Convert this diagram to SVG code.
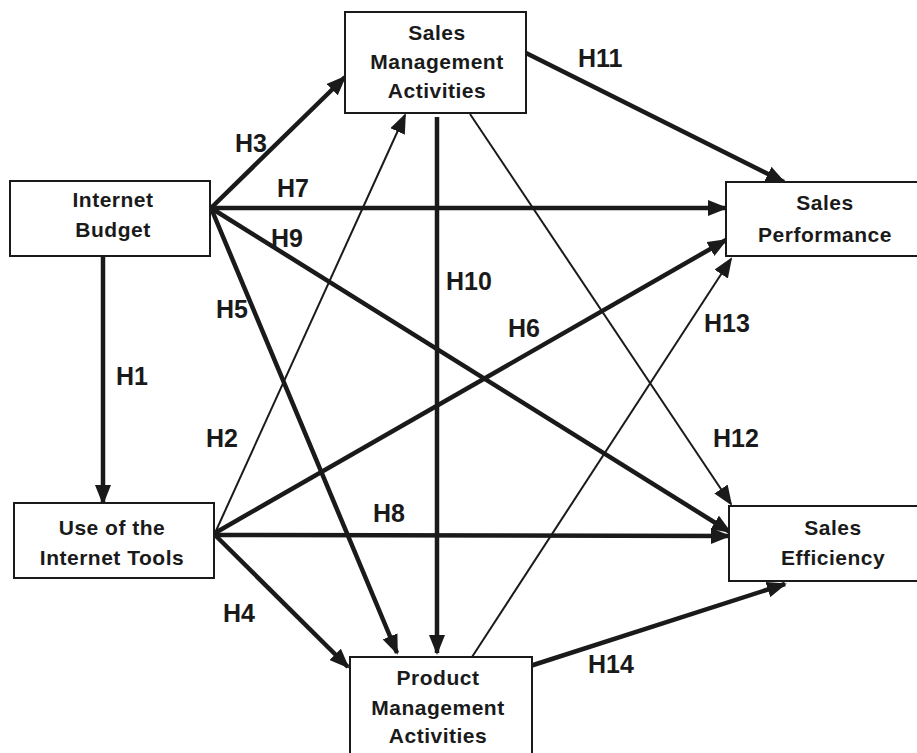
<svg xmlns="http://www.w3.org/2000/svg" width="917" height="753" viewBox="0 0 917 753">
<defs>
<marker id="ah" viewBox="0 0 20 16" refX="18" refY="8" markerWidth="20" markerHeight="16" markerUnits="userSpaceOnUse" orient="auto">
<path d="M0,0 L20,8 L0,16 z" fill="#1a1a1a"/>
</marker>
<style>
.box{fill:#fff;stroke:#1a1a1a;stroke-width:2}
.nt{font-family:"Liberation Sans",Arial,sans-serif;font-weight:bold;font-size:21px;fill:#1a1a1a;text-anchor:middle;letter-spacing:0.5px}
.lb{font-family:"Liberation Sans",Arial,sans-serif;font-weight:bold;font-size:25px;fill:#1a1a1a}
.thick{stroke:#1a1a1a;stroke-width:4.5;fill:none;marker-end:url(#ah)}
.thin{stroke:#1a1a1a;stroke-width:2;fill:none;marker-end:url(#ah)}
</style>
</defs>
<rect width="917" height="753" fill="#fff"/>
<g id="connectors">
<line class="thick" x1="103" y1="257" x2="103" y2="503"/>
<line class="thick" x1="211" y1="208" x2="345" y2="77"/>
<line class="thick" x1="211" y1="208" x2="726" y2="208"/>
<line class="thick" x1="211" y1="208" x2="730" y2="532"/>
<line class="thick" x1="211" y1="208" x2="397" y2="653"/>
<line class="thin" x1="215" y1="533" x2="405" y2="115"/>
<line class="thick" x1="215" y1="533" x2="726" y2="240"/>
<line class="thick" x1="215" y1="535" x2="729" y2="536"/>
<line class="thick" x1="215" y1="535" x2="348" y2="667"/>
<line class="thick" x1="437" y1="117" x2="437" y2="653"/>
<line class="thick" x1="526" y1="53" x2="784" y2="182"/>
<line class="thin" x1="470" y1="114" x2="731" y2="504"/>
<line class="thin" x1="472" y1="657" x2="731" y2="259"/>
<line class="thick" x1="527" y1="667" x2="785" y2="584"/>
</g>
<g id="labels">
<text class="lb" x="235" y="152">H3</text>
<text class="lb" x="277" y="197">H7</text>
<text class="lb" x="271" y="247">H9</text>
<text class="lb" x="216" y="318">H5</text>
<text class="lb" x="116" y="385">H1</text>
<text class="lb" x="206" y="447">H2</text>
<text class="lb" x="446" y="290">H10</text>
<text class="lb" x="508" y="337">H6</text>
<text class="lb" x="578" y="67">H11</text>
<text class="lb" x="704" y="332">H13</text>
<text class="lb" x="713" y="447">H12</text>
<text class="lb" x="373" y="522">H8</text>
<text class="lb" x="223" y="622">H4</text>
<text class="lb" x="588" y="673">H14</text>
</g>
<g id="internet-budget">
<rect class="box" x="10" y="181" width="200" height="75"/>
<text class="nt" x="113" y="207">Internet</text>
<text class="nt" x="113" y="237">Budget</text>
</g>
<g id="sales-management">
<rect class="box" x="345" y="12" width="181" height="101"/>
<text class="nt" x="437" y="40">Sales</text>
<text class="nt" x="437" y="69">Management</text>
<text class="nt" x="437" y="98">Activities</text>
</g>
<g id="sales-performance">
<rect class="box" x="726" y="182" width="210" height="74"/>
<text class="nt" x="825" y="210">Sales</text>
<text class="nt" x="825" y="242">Performance</text>
</g>
<g id="use-internet-tools">
<rect class="box" x="14" y="503" width="200" height="75"/>
<text class="nt" x="112" y="535">Use of the</text>
<text class="nt" x="112" y="565">Internet Tools</text>
</g>
<g id="sales-efficiency">
<rect class="box" x="729" y="506" width="210" height="75"/>
<text class="nt" x="833" y="535">Sales</text>
<text class="nt" x="833" y="565">Efficiency</text>
</g>
<g id="product-management">
<rect class="box" x="350" y="657" width="182" height="110"/>
<text class="nt" x="438" y="685">Product</text>
<text class="nt" x="438" y="715">Management</text>
<text class="nt" x="438" y="743">Activities</text>
</g>
</svg>
